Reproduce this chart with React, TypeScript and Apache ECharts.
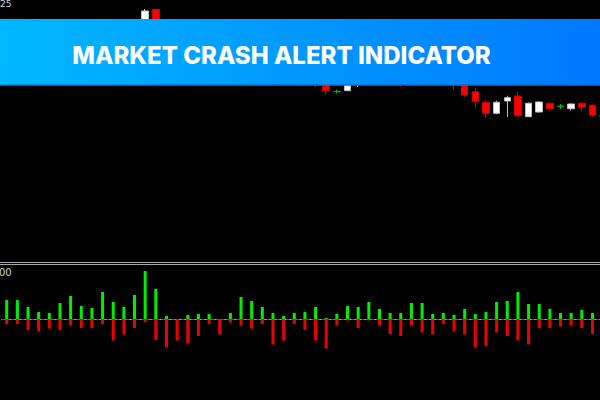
import React, { useEffect, useRef } from "react";
import * as echarts from "echarts";

const categories = [
  "06:00", "06:15", "06:30", "06:45", "07:00", "07:15", "07:30", "07:45",
  "08:00", "08:15", "08:30", "08:45", "09:00", "09:15", "09:30", "09:45",
  "10:00", "10:15", "10:30", "10:45", "11:00", "11:15", "11:30", "11:45",
  "12:00", "12:15", "12:30", "12:45", "13:00", "13:15", "13:30", "13:45",
  "14:00", "14:15", "14:30", "14:45", "15:00", "15:15", "15:30", "15:45",
  "16:00", "16:15", "16:30", "16:45", "17:00", "17:15", "17:30", "17:45",
  "18:00", "18:15", "18:30", "18:45", "19:00", "19:15", "19:30", "19:45",
  "20:00",
];

const opens = [1.1002, 1.1007, 1.1012, 1.1006, 1.1002, 1.1004, 1.1010, 1.1017, 1.1014, 1.1016, 1.1024, 1.1018, 1.1015, 1.1034, 1.10525, 1.1032, 1.1020, 1.1012, 1.1004, 1.1000, 1.0996, 1.0998, 1.0994, 1.0996, 1.1004, 1.1007, 1.1005, 1.0996, 1.0990, 1.0992, 1.0984, 1.09705, 1.09713, 1.0982, 1.0986, 1.0990, 1.0996, 1.0994, 1.0984, 1.0988, 1.0992, 1.0988, 1.0984, 1.0982, 1.09703, 1.09597, 1.09487, 1.0961, 1.0966, 1.09453, 1.0950, 1.09587, 1.09557, 1.09533, 1.09587, 1.09567, 1.0946];
const closes = [1.1007, 1.1012, 1.1006, 1.1002, 1.1004, 1.1010, 1.1017, 1.1014, 1.1016, 1.1024, 1.1018, 1.1015, 1.1034, 1.1051, 1.1032, 1.1020, 1.1012, 1.1004, 1.1000, 1.0996, 1.0998, 1.0994, 1.0996, 1.1004, 1.1007, 1.1005, 1.0996, 1.0990, 1.0992, 1.0984, 1.09713, 1.09705, 1.0982, 1.0986, 1.0990, 1.0996, 1.0994, 1.0984, 1.0988, 1.0992, 1.0988, 1.0984, 1.0980, 1.0967, 1.09603, 1.09487, 1.09597, 1.09643, 1.09463, 1.09587, 1.0960, 1.09533, 1.09557, 1.0958, 1.09547, 1.09467, 1.0946];
const lows = [1.0999, 1.1004, 1.1004, 1.0999, 1.0998, 1.1002, 1.1008, 1.1011, 1.1010, 1.1014, 1.1015, 1.1012, 1.1013, 1.1032, 1.1029, 1.1017, 1.1009, 1.1001, 1.0996, 1.0993, 1.0994, 1.0991, 1.0992, 1.0994, 1.1002, 1.1002, 1.0993, 1.0988, 1.0987, 1.0975, 1.0967, 1.09685, 1.0971, 1.0975, 1.0983, 1.0988, 1.0990, 1.0975, 1.0981, 1.0985, 1.0984, 1.0980, 1.0972, 1.09653, 1.09537, 1.09447, 1.09477, 1.0945, 1.09447, 1.0945, 1.09495, 1.09513, 1.0953, 1.09513, 1.09503, 1.09453, 1.0944];
const highs = [1.1010, 1.1015, 1.1014, 1.1009, 1.1006, 1.1012, 1.1019, 1.1020, 1.1018, 1.1026, 1.1027, 1.1022, 1.1037, 1.1053, 1.1053, 1.1035, 1.1022, 1.1014, 1.1007, 1.1002, 1.1000, 1.1000, 1.0998, 1.1006, 1.1010, 1.1009, 1.1007, 1.0998, 1.0994, 1.0994, 1.0986, 1.09723, 1.0984, 1.0988, 1.0992, 1.0998, 1.0999, 1.0996, 1.0990, 1.0994, 1.0995, 1.0990, 1.0987, 1.0984, 1.0974, 1.09613, 1.09613, 1.09663, 1.09703, 1.09595, 1.09605, 1.0960, 1.0958, 1.09585, 1.0960, 1.09575, 1.0948];

const bullValues = [38, 38, 24, 14, 12, 32, 46, 26, 22, 54, 34, 24, 48, 96, 60, 6, 0, 8, 10, 10, 0, 12, 44, 36, 24, 12, 6, 12, 14, 24, 2, 10, 26, 24, 34, 20, 12, 12, 32, 32, 10, 12, 8, 20, 10, 14, 34, 36, 54, 30, 30, 20, 12, 12, 18, 12, 10];
const bearValues = [-10, -10, -22, -25, -19, -22, -13, -18, -18, -10, -43, -31, -18, -6, -42, -57, -43, -49, -34, -10, -31, -7, -13, -19, -10, -51, -43, -10, -22, -43, -59, -13, -3, -18, -3, -13, -30, -34, -13, -27, -31, -10, -25, -31, -57, -54, -27, -34, -43, -51, -18, -18, -15, -13, -18, -30, -10];

const priceLabelTop = "25";
const indicatorLabelTop = "00";
const title = "MARKET CRASH ALERT INDICATOR";

export default function App() {
  const ref = useRef<HTMLDivElement>(null);

  useEffect(() => {
    document.body.style.margin = "0";
    document.body.style.overflow = "hidden";
    if (!ref.current) return;
    const chart = echarts.init(ref.current, null, { renderer: "svg" });

    const DOJI = "#00c000";
    const candleData = categories.map((_, i) => {
      const v = [opens[i], closes[i], lows[i], highs[i]];
      if (opens[i] === closes[i]) {
        return {
          value: v,
          itemStyle: { color: DOJI, color0: DOJI, borderColor: DOJI, borderColor0: DOJI, borderColorDoji: DOJI },
        };
      }
      return { value: v };
    });

    const left = 1.4;
    const width = 10.65 * categories.length;

    chart.setOption({
      animation: false,
      backgroundColor: "#000000",
      grid: [
        { left, width, top: 0, height: 262 },
        { left, width, top: 264, height: 133 },
      ],
      xAxis: [
        {
          type: "category",
          gridIndex: 0,
          data: categories,
          show: false,
        },
        {
          type: "category",
          gridIndex: 1,
          data: categories,
          axisLine: { show: true, lineStyle: { color: "#a8a8a8", width: 1 } },
          axisTick: {
            show: true,
            alignWithLabel: true,
            length: 3,
            interval: (idx: number) => idx % 8 === 4,
            lineStyle: { color: "#a8a8a8" },
          },
          axisLabel: { show: false },
          splitLine: { show: false },
        },
      ],
      yAxis: [
        {
          type: "value",
          gridIndex: 0,
          min: 1.08,
          max: 1.1062,
          show: false,
          splitLine: { show: false },
        },
        {
          type: "value",
          gridIndex: 1,
          min: -156,
          max: 110,
          show: false,
          splitLine: { show: false },
        },
      ],
      series: [
        {
          type: "candlestick",
          xAxisIndex: 0,
          yAxisIndex: 0,
          barWidth: 7,
          data: candleData,
          itemStyle: {
            color: "#ffffff",
            color0: "#ff0000",
            borderColor: "#c0c0c0",
            borderColor0: "#d00000",
            borderWidth: 1,
          },
        },
        {
          type: "bar",
          name: "up",
          xAxisIndex: 1,
          yAxisIndex: 1,
          barWidth: 3,
          barGap: "-100%",
          data: bullValues,
          itemStyle: { color: "#00ee00" },
          markLine: {
            silent: true,
            symbol: ["none", "none"],
            label: { show: false },
            lineStyle: { color: "#3c5c5c", type: [3, 2], width: 1 },
            data: [{ yAxis: 0 }],
          },
        },
        {
          type: "bar",
          name: "down",
          xAxisIndex: 1,
          yAxisIndex: 1,
          barWidth: 3,
          barGap: "-100%",
          data: bearValues,
          itemStyle: { color: "#ee0000" },
        },
      ],
      graphic: [
        { type: "line", z: 50, shape: { x1: 0, y1: 262.5, x2: 610, y2: 262.5 }, style: { stroke: "#a8a8a8", lineWidth: 1 } },
        { type: "line", z: 50, shape: { x1: 0, y1: 264.5, x2: 610, y2: 264.5 }, style: { stroke: "#a8a8a8", lineWidth: 1 } },
        {
          type: "text",
          z: 50,
          x: 0,
          y: -1,
          style: { text: priceLabelTop, fill: "#d0d0d0", font: "9px 'DejaVu Sans'" },
        },
        {
          type: "text",
          z: 50,
          x: -1,
          y: 267,
          style: { text: indicatorLabelTop, fill: "#d0d0d0", font: "10px 'DejaVu Sans'" },
        },
        {
          type: "rect",
          z: 100,
          shape: { x: 0, y: 19, width: 610, height: 66.5 },
          style: {
            fill: new echarts.graphic.LinearGradient(0, 0, 1, 0, [
              { offset: 0, color: "#00b8ff" },
              { offset: 1, color: "#0077ff" },
            ]),
          },
        },
        {
          type: "rect",
          z: 101,
          shape: { x: 0, y: 84.5, width: 610, height: 1 },
          style: { fill: "#0a64c8" },
        },
        {
          type: "text",
          z: 102,
          x: 281.5,
          y: 55.5,
          style: {
            text: title,
            fill: "#ffffff",
            font: "800 24px Inter",
            align: "center",
            verticalAlign: "middle",
          },
        },
      ],
    });

    return () => chart.dispose();
  }, []);

  return (
    <div
      ref={ref}
      style={{ position: "absolute", left: 0, top: 0, width: 610, height: 400 }}
    />
  );
}
